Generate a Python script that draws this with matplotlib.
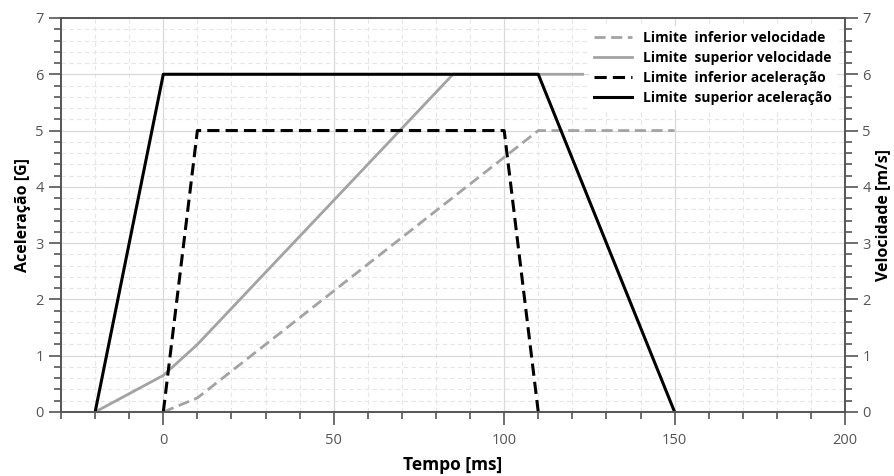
import matplotlib
matplotlib.use("Agg")
import matplotlib.pyplot as plt
from matplotlib.ticker import MultipleLocator

plt.rcParams['font.family'] = ['Open Sans', 'DejaVu Sans']

# Limites de aceleração [G]
t_acel_sup = [-20, 0, 110, 150]
acel_sup = [0, 6, 6, 0]
t_acel_inf = [0, 10, 100, 110]
acel_inf = [0, 5, 5, 0]

# Limites de velocidade [m/s]
t_vel_sup = [-20, 0, 10, 85, 123]
vel_sup = [0, 0.65, 1.2, 6, 6]
t_vel_inf = [0, 10, 110, 150]
vel_inf = [0, 0.25, 5, 5]

cinza = '#a3a3a3'
cor_eixo = '#555555'

fig = plt.figure(figsize=(8.95, 4.76), dpi=100)
ax = fig.add_axes([0.0682, 0.1345, 0.8760, 0.8277])
ax2 = ax.twinx()

ax.set_xlim(-30, 200)
ax.set_ylim(0, 7)
ax2.set_ylim(0, 7)

ax.xaxis.set_major_locator(MultipleLocator(50))
ax.xaxis.set_minor_locator(MultipleLocator(10))
for a in (ax, ax2):
    a.yaxis.set_major_locator(MultipleLocator(1))
    a.yaxis.set_minor_locator(MultipleLocator(0.2))
    a.tick_params(which='major', length=9, width=1.2, color=cor_eixo,
                  labelcolor='#555555', labelsize=10.5)
    a.tick_params(which='minor', length=5, width=1.2, color=cor_eixo)
    for s in a.spines.values():
        s.set_color(cor_eixo)
        s.set_linewidth(1.2)
ax.tick_params(axis='x', which='major', pad=6)

ax.grid(which='major', color='#d9d9d9', linewidth=0.9, linestyle='-')
ax.grid(which='minor', color='#e6e6e6', linewidth=0.8, linestyle=(0, (4, 3)))
ax.set_axisbelow(True)

# tudo no eixo principal para as linhas pretas ficarem por cima
l1, = ax.plot(t_vel_inf, vel_inf, color=cinza, lw=2, linestyle=(0, (4, 2)),
              label='Limite  inferior velocidade')
l2, = ax.plot(t_vel_sup, vel_sup, color=cinza, lw=2,
              label='Limite  superior velocidade')
l3, = ax.plot(t_acel_inf, acel_inf, color='black', lw=2.2, linestyle=(0, (4, 2)),
              label='Limite  inferior aceleração')
l4, = ax.plot(t_acel_sup, acel_sup, color='black', lw=2.2,
              label='Limite  superior aceleração')

ax.set_xlabel('Tempo [ms]', fontsize=12.5, fontweight='bold', labelpad=6)
ax.set_ylabel('Aceleração [G]', fontsize=11.5, fontweight='bold', labelpad=3)
ax2.set_ylabel('Velocidade [m/s]', fontsize=11.5, fontweight='bold', labelpad=3)

leg = ax.legend(handles=[l1, l2, l3, l4], loc='upper right',
                prop={'weight': 'bold', 'size': 10}, handlelength=2.7,
                borderaxespad=0.55, labelspacing=0.42, frameon=True,
                fancybox=False, framealpha=1)
leg.get_frame().set_edgecolor('none')

fig.savefig('out.png', dpi=100)
